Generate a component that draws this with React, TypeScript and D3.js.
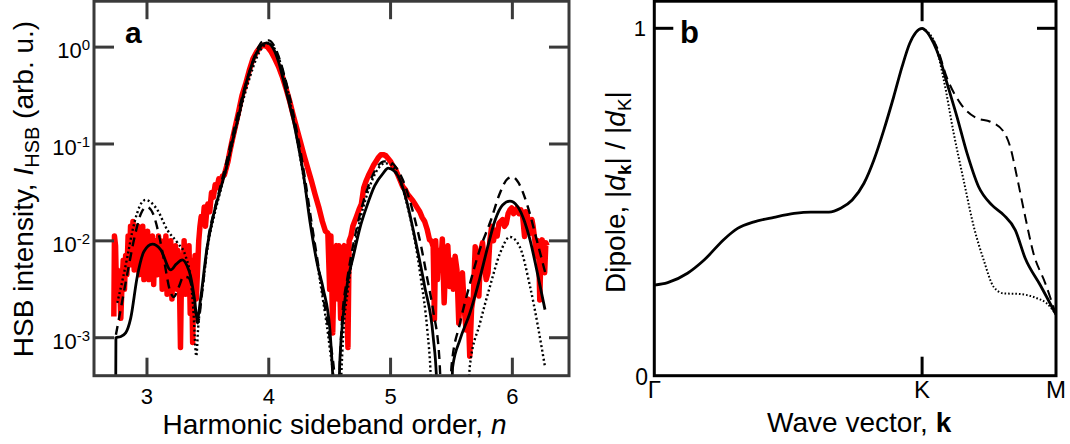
import React from 'react';
import * as d3 from 'd3';

// ---------- Panel a data: [n, log10(I_HSB)] ----------
const RED_A: [number, number][] = [
  [2.728,-2.78],[2.733,-1.95],[2.742,-2.05],[2.75,-2.55],[2.758,-2.3],[2.765,-2.6],[2.775,-2.4],[2.785,-2.8],[2.795,-2.45],[2.805,-2.2],
  [2.815,-2.5],[2.825,-2.15],[2.835,-2.35],[2.845,-1.95],[2.855,-2.25],[2.865,-1.85],[2.875,-2.1],[2.885,-1.8],[2.895,-2.3],[2.905,-1.9],
  [2.915,-2.2],[2.925,-1.85],[2.935,-2.35],[2.945,-1.95],[2.955,-2.15],[2.965,-1.85],[2.975,-2.4],[2.985,-1.95],[2.995,-2.2],[3.005,-1.9],
  [3.015,-2.4],[3.025,-2.05],[3.035,-2.25],[3.045,-1.95],[3.055,-2.45],[3.065,-2.0],[3.075,-2.3],[3.085,-2.35],[3.095,-1.95],[3.105,-2.3],
  [3.115,-2.0],[3.125,-2.5],[3.135,-2.05],[3.145,-2.3],[3.155,-1.95],[3.165,-2.55],[3.175,-2.1],[3.185,-2.35],[3.195,-2.0],[3.205,-2.6],
  [3.215,-2.15],[3.225,-2.4],[3.235,-2.05],[3.245,-2.5],[3.255,-2.1],[3.265,-2.3],[3.275,-3.1],[3.285,-2.2],[3.295,-2.45],[3.305,-2.0],
  [3.315,-2.55],[3.325,-2.1],[3.335,-2.35],[3.345,-2.05],[3.355,-2.75],[3.365,-2.2],[3.375,-3.05],[3.385,-2.4],[3.395,-2.15],[3.405,-2.6],
  [3.415,-2.3],[3.425,-2.0],[3.435,-1.85],[3.445,-1.75],[3.46,-1.8],[3.47,-1.65],[3.48,-1.85],[3.49,-1.7],[3.5,-1.62],[3.515,-1.7],
  [3.53,-1.5],[3.545,-1.55],[3.56,-1.42],[3.575,-1.45],[3.59,-1.36],[3.605,-1.4],[3.62,-1.33],[3.635,-1.32],[3.65,-1.25],[3.665,-1.18],
  [3.68,-1.08],[3.7,-0.96],[3.72,-0.85],[3.75,-0.68],[3.78,-0.5],[3.81,-0.38],[3.84,-0.24],[3.87,-0.12],[3.9,-0.05],[3.93,0.0],
  [3.96,0.02],[3.99,0.0],[4.02,-0.05],[4.05,-0.12],[4.08,-0.2],[4.11,-0.3],[4.14,-0.42],[4.17,-0.55],[4.2,-0.7],[4.23,-0.84],
  [4.26,-0.98],[4.29,-1.12],[4.32,-1.25],[4.35,-1.38],[4.38,-1.52],[4.41,-1.65],[4.44,-1.8],[4.465,-1.9],[4.485,-1.92],[4.5,-2.5],
  [4.51,-1.95],[4.525,-2.95],[4.54,-2.1],[4.555,-2.05],[4.565,-2.6],[4.575,-2.05],[4.59,-2.8],[4.605,-2.1],[4.62,-2.05],[4.635,-2.4],
  [4.65,-3.1],[4.66,-2.0],[4.675,-1.95],[4.69,-1.85],[4.705,-1.8],[4.72,-1.75],[4.74,-1.68],[4.76,-1.62],[4.78,-1.45],[4.8,-1.38],
  [4.82,-1.32],[4.84,-1.27],[4.86,-1.22],[4.88,-1.18],[4.9,-1.14],[4.92,-1.11],[4.94,-1.11],[4.96,-1.12],[4.98,-1.15],[5.0,-1.18],
  [5.02,-1.23],[5.04,-1.26],[5.06,-1.32],[5.08,-1.38],[5.1,-1.44],[5.12,-1.47],[5.14,-1.52],[5.16,-1.55],[5.18,-1.58],[5.2,-1.62],
  [5.22,-1.66],[5.24,-1.7],[5.26,-1.76],[5.28,-1.8],[5.3,-1.88],[5.32,-1.99],[5.335,-2.0],[5.35,-2.06],[5.36,-2.81],[5.37,-2.0],
  [5.385,-2.4],[5.395,-2.1],[5.41,-2.3],[5.425,-1.98],[5.44,-2.64],[5.455,-2.13],[5.47,-2.05],[5.485,-2.47],[5.5,-2.2],[5.515,-2.5],
  [5.53,-2.16],[5.545,-2.3],[5.56,-2.85],[5.575,-2.4],[5.59,-2.33],[5.605,-2.7],[5.62,-2.92],[5.635,-2.6],[5.65,-3.19],[5.665,-2.7],
  [5.68,-2.57],[5.695,-2.06],[5.71,-2.3],[5.725,-2.57],[5.74,-2.1],[5.755,-2.02],[5.77,-2.25],[5.785,-2.4],[5.8,-2.33],[5.815,-2.0],
  [5.83,-1.85],[5.845,-2.0],[5.86,-1.89],[5.875,-1.95],[5.89,-1.82],[5.905,-1.8],[5.92,-1.78],[5.935,-1.85],[5.95,-1.82],[5.965,-1.72],
  [5.98,-1.68],[5.995,-1.66],[6.01,-1.72],[6.025,-1.7],[6.04,-1.66],[6.055,-1.72],[6.07,-1.68],[6.085,-1.75],[6.1,-1.955],[6.11,-1.7],
  [6.12,-1.72],[6.135,-1.85],[6.15,-1.92],[6.16,-1.78],[6.17,-1.85],[6.185,-2.0],[6.2,-2.16],[6.215,-2.0],[6.225,-2.61],[6.235,-2.1],
  [6.245,-1.99],[6.255,-2.2],[6.265,-2.33],[6.275,-2.02],[6.285,-2.05],
];

const SOLID_A: [number, number][] = [
  [2.743,-3.6],[2.745,-3.0],[2.78,-2.99],[2.825,-2.95],[2.866,-2.8],[2.92,-2.37],[2.975,-2.11],[3.044,-2.034],[3.112,-2.09],[3.195,-2.3],
  [3.24,-2.24],[3.29,-2.196],[3.33,-2.26],[3.359,-2.37],[3.39,-2.6],[3.413,-2.81],[3.44,-2.6],[3.49,-2.1],[3.545,-1.74],[3.6,-1.48],
  [3.654,-1.234],[3.7,-0.98],[3.764,-0.65],[3.8,-0.44],[3.846,-0.237],[3.9,-0.06],[3.942,0.02],[3.983,0.044],[4.037,-0.014],[4.08,-0.15],
  [4.12,-0.34],[4.16,-0.54],[4.2,-0.75],[4.24,-1.0],[4.283,-1.3],[4.338,-1.8],[4.4,-2.25],[4.448,-2.5],[4.502,-2.92],[4.53,-3.5],
  [4.545,-3.9],[4.565,-3.9],[4.585,-3.2],[4.61,-2.78],[4.65,-2.4],[4.694,-2.16],[4.75,-1.86],[4.804,-1.646],[4.87,-1.43],[4.94,-1.3],
  [4.98,-1.25],[5.03,-1.28],[5.077,-1.37],[5.13,-1.58],[5.186,-1.887],[5.23,-2.15],[5.28,-2.47],[5.35,-2.99],[5.38,-3.5],[5.39,-3.9],
  [5.495,-3.9],[5.51,-3.3],[5.57,-3.02],[5.65,-2.75],[5.73,-2.4],[5.8,-2.05],[5.86,-1.78],[5.92,-1.63],[5.98,-1.59],[6.04,-1.64],
  [6.1,-1.8],[6.145,-1.99],[6.2,-2.3],[6.268,-2.71],
];

const DASHED_A: [number, number][] = [
  [2.745,-2.97],[2.8,-2.6],[2.84,-2.33],[2.9,-1.95],[2.95,-1.72],[3.0,-1.65],[3.05,-1.72],[3.1,-1.95],[3.14,-2.2],[3.19,-2.52],
  [3.22,-2.58],[3.26,-2.48],[3.3,-2.37],[3.34,-2.38],[3.38,-2.55],[3.415,-2.85],[3.46,-2.45],[3.5,-2.0],[3.55,-1.7],[3.6,-1.45],
  [3.65,-1.2],[3.7,-0.93],[3.75,-0.67],[3.8,-0.43],[3.85,-0.22],[3.9,-0.04],[3.95,0.06],[4.0,0.07],[4.05,0.0],[4.1,-0.17],
  [4.15,-0.4],[4.2,-0.68],[4.25,-1.0],[4.3,-1.38],[4.35,-1.8],[4.4,-2.2],[4.45,-2.6],[4.5,-3.0],[4.55,-3.6],[4.56,-3.9],
  [4.57,-3.9],[4.58,-3.4],[4.6,-2.85],[4.65,-2.35],[4.7,-2.0],[4.75,-1.72],[4.8,-1.5],[4.85,-1.33],[4.9,-1.22],[4.95,-1.18],
  [5.0,-1.19],[5.05,-1.25],[5.1,-1.37],[5.15,-1.55],[5.2,-1.78],[5.25,-2.05],[5.3,-2.38],[5.35,-2.72],[5.4,-3.2],[5.43,-3.9],
  [5.485,-3.9],[5.5,-3.3],[5.57,-2.85],[5.65,-2.45],[5.73,-2.1],[5.82,-1.8],[5.9,-1.5],[5.96,-1.36],[6.0,-1.34],[6.05,-1.4],
  [6.12,-1.62],[6.2,-1.99],[6.27,-2.33],
];

const DOTTED_A: [number, number][] = [
  [2.756,-2.64],[2.8,-2.4],[2.84,-2.16],[2.88,-1.9],[2.92,-1.71],[2.96,-1.6],[2.99,-1.577],[3.03,-1.6],[3.085,-1.68],[3.167,-1.887],
  [3.25,-2.02],[3.318,-2.16],[3.359,-2.4],[3.38,-2.7],[3.405,-3.19],[3.42,-2.9],[3.46,-2.45],[3.5,-2.05],[3.55,-1.75],[3.6,-1.5],
  [3.65,-1.26],[3.7,-1.0],[3.75,-0.74],[3.8,-0.5],[3.85,-0.29],[3.9,-0.11],[3.95,0.0],[4.0,0.04],[4.05,-0.02],[4.1,-0.18],
  [4.15,-0.42],[4.2,-0.72],[4.25,-1.08],[4.3,-1.45],[4.35,-1.85],[4.4,-2.25],[4.45,-2.65],[4.5,-3.1],[4.54,-3.6],[4.55,-3.9],
  [4.58,-3.9],[4.595,-3.4],[4.61,-3.0],[4.65,-2.5],[4.7,-2.08],[4.75,-1.78],[4.8,-1.55],[4.85,-1.37],[4.9,-1.25],[4.95,-1.2],
  [5.0,-1.21],[5.05,-1.3],[5.1,-1.46],[5.15,-1.7],[5.2,-2.0],[5.25,-2.4],[5.3,-2.9],[5.33,-3.4],[5.345,-3.9],[5.63,-3.9],
  [5.65,-3.3],[5.734,-2.85],[5.816,-2.47],[5.898,-2.13],[5.98,-1.96],[6.06,-2.06],[6.145,-2.47],[6.268,-3.3],
];

const X_TICKS_A = [3, 4, 5, 6];
const Y_EXP_A = [0, -1, -2, -3];

// ---------- Panel b data: [k (Γ=0, K=1, M=1.5), |d_k|/|d_K|] ----------
const SOLID_B: [number, number][] = [
  [0,0.261],[0.05,0.268],[0.124,0.295],[0.186,0.333],[0.261,0.393],[0.311,0.424],[0.373,0.443],[0.447,0.456],[0.522,0.467],[0.584,0.471],
  [0.652,0.471],[0.696,0.482],[0.739,0.506],[0.783,0.554],[0.82,0.621],[0.857,0.707],[0.894,0.803],[0.925,0.889],[0.954,0.957],[1.0,1.0],
  [1.043,0.957],[1.068,0.909],[1.093,0.842],[1.13,0.746],[1.168,0.64],[1.211,0.544],[1.261,0.491],[1.304,0.463],[1.348,0.419],[1.385,0.338],
  [1.441,0.261],[1.5,0.176],
];
const DASHED_B: [number, number][] = [
  [1.0,1.0],[1.056,0.944],[1.093,0.857],[1.143,0.784],[1.205,0.741],[1.255,0.731],[1.304,0.703],[1.329,0.659],[1.354,0.573],[1.385,0.458],
  [1.416,0.352],[1.46,0.266],[1.5,0.176],
];
const DOTTED_B: [number, number][] = [
  [1.0,1.0],[1.043,0.966],[1.081,0.851],[1.118,0.698],[1.155,0.563],[1.193,0.429],[1.23,0.333],[1.267,0.256],[1.304,0.237],[1.366,0.235],
  [1.429,0.223],[1.466,0.208],[1.5,0.176],
];
const K_TICKS: [string, number][] = [['Γ', 0], ['K', 1], ['M', 1.5]];

const FONT = '"Liberation Sans", Arial, sans-serif';

export default function App() {
  // panel a geometry
  const aL = 94, aR = 569, aT = 1.2, aB = 375.7;
  const xa = d3.scaleLinear().domain([2.565, 6.465]).range([aL, aR]);
  const ya = d3.scaleLog().domain([Math.pow(10, -3.392), Math.pow(10, 0.474)]).range([aB, aT]);
  const lineA = d3.line<[number, number]>().x(d => xa(d[0])).y(d => ya(Math.pow(10, d[1])));
  const smoothA = d3.line<[number, number]>().x(d => xa(d[0])).y(d => ya(Math.pow(10, d[1]))).curve(d3.curveMonotoneX);

  // panel b geometry
  const bL = 654.3, bR = 1056, bT = 1.2, bB = 375.7;
  const xb = d3.scaleLinear().domain([0, 1.5]).range([bL, bR]);
  const yb = d3.scaleLinear().domain([0, 1.0786]).range([bB, 1]);
  const lineB = d3.line<[number, number]>().x(d => xb(d[0])).y(d => yb(d[1])).curve(d3.curveMonotoneX);

  const frameA = '#3a3a3a';

  return (
    <svg width={1070} height={444} style={{ position: 'absolute', left: 0, top: 0, background: '#fff' }} fontFamily={FONT}>
      <defs>
        <clipPath id="clipA"><rect x={aL} y={aT} width={aR - aL} height={aB - aT} /></clipPath>
        <clipPath id="clipB"><rect x={bL} y={bT} width={bR - bL} height={bB - bT} /></clipPath>
      </defs>

      {/* ---------------- Panel a ---------------- */}
      <g clipPath="url(#clipA)">
        <path d={lineA(RED_A) || ''} fill="none" stroke="#ff0000" strokeWidth={5.5} strokeLinejoin="round" />
        <path d={smoothA(DOTTED_A) || ''} fill="none" stroke="#000" strokeWidth={2.4} strokeDasharray="2,2.6" />
        <path d={smoothA(DASHED_A) || ''} fill="none" stroke="#000" strokeWidth={2.4} strokeDasharray="9,6" />
        <path d={smoothA(SOLID_A) || ''} fill="none" stroke="#000" strokeWidth={2.8} />
      </g>
      <rect x={aL} y={aT} width={aR - aL} height={aB - aT} fill="none" stroke={frameA} strokeWidth={3} />
      {X_TICKS_A.map(t => (
        <g key={'xa' + t}>
          <line x1={xa(t)} x2={xa(t)} y1={aT} y2={aT + 18} stroke={frameA} strokeWidth={3} />
          <line x1={xa(t)} x2={xa(t)} y1={aB} y2={aB - 18} stroke={frameA} strokeWidth={3} />
          <text x={xa(t)} y={404} fontSize={22} textAnchor="middle" fill="#000">{t}</text>
        </g>
      ))}
      {Y_EXP_A.map(e => {
        const y = ya(Math.pow(10, e));
        return (
          <g key={'ya' + e}>
            <line x1={aL} x2={aL + 20} y1={y} y2={y} stroke={frameA} strokeWidth={3} />
            <line x1={aR} x2={aR - 20} y1={y} y2={y} stroke={frameA} strokeWidth={3} />
            <text x={90} y={y + 11.3} fontSize={22} textAnchor="end" fill="#000">
              10<tspan fontSize={15} dy={-8}>{String(e)}</tspan>
            </text>
          </g>
        );
      })}
      <text x={125} y={43} fontSize={30} fontWeight="bold" fill="#000">a</text>
      <text x={(aL + aR) / 2 + 3} y={434} fontSize={28} textAnchor="middle" fill="#000">
        Harmonic sideband order, <tspan fontStyle="italic">n</tspan>
      </text>
      <text transform="translate(33,189) rotate(-90)" fontSize={28} textAnchor="middle" fill="#000">
        HSB intensity, <tspan fontStyle="italic">I</tspan><tspan fontSize={20} dy={6}>HSB</tspan><tspan dy={-6}> (arb. u.)</tspan>
      </text>

      {/* ---------------- Panel b ---------------- */}
      <g clipPath="url(#clipB)">
        <path d={lineB(DOTTED_B) || ''} fill="none" stroke="#000" strokeWidth={2} strokeDasharray="1.6,2" />
        <path d={lineB(DASHED_B) || ''} fill="none" stroke="#000" strokeWidth={2} strokeDasharray="10,6" />
        <path d={lineB(SOLID_B) || ''} fill="none" stroke="#000" strokeWidth={2.8} />
      </g>
      <rect x={bL} y={bT} width={bR - bL} height={bB - bT} fill="none" stroke="#000" strokeWidth={3} />
      <line x1={xb(1)} x2={xb(1)} y1={bT} y2={bT + 20} stroke="#000" strokeWidth={3} />
      <line x1={xb(1)} x2={xb(1)} y1={bB} y2={bB - 19} stroke="#000" strokeWidth={3} />
      <line x1={bL} x2={bL + 19} y1={yb(1)} y2={yb(1)} stroke="#000" strokeWidth={3} />
      <line x1={bR} x2={bR - 19} y1={yb(1)} y2={yb(1)} stroke="#000" strokeWidth={3} />
      <text x={646} y={yb(1) + 8} fontSize={22} textAnchor="end" fill="#000">1</text>
      <text x={648} y={385} fontSize={23} textAnchor="end" fill="#000">0</text>
      {K_TICKS.map(([lab, v]) => (
        <text key={lab} x={xb(v)} y={398} fontSize={24} textAnchor="middle" fill="#000">{lab}</text>
      ))}
      <text x={680} y={43} fontSize={31} fontWeight="bold" fill="#000">b</text>
      <text x={(bL + bR) / 2 + 4} y={432} fontSize={28} textAnchor="middle" fill="#000">
        Wave vector, <tspan fontWeight="bold">k</tspan>
      </text>
      <text transform="translate(625,192) rotate(-90)" fontSize={28} textAnchor="middle" fill="#000">
        Dipole, |<tspan fontStyle="italic">d</tspan><tspan fontSize={19} dy={6} fontWeight="bold">k</tspan><tspan dy={-6}>| / |</tspan><tspan fontStyle="italic">d</tspan><tspan fontSize={19} dy={6}>K</tspan><tspan dy={-6}>|</tspan>
      </text>
    </svg>
  );
}
